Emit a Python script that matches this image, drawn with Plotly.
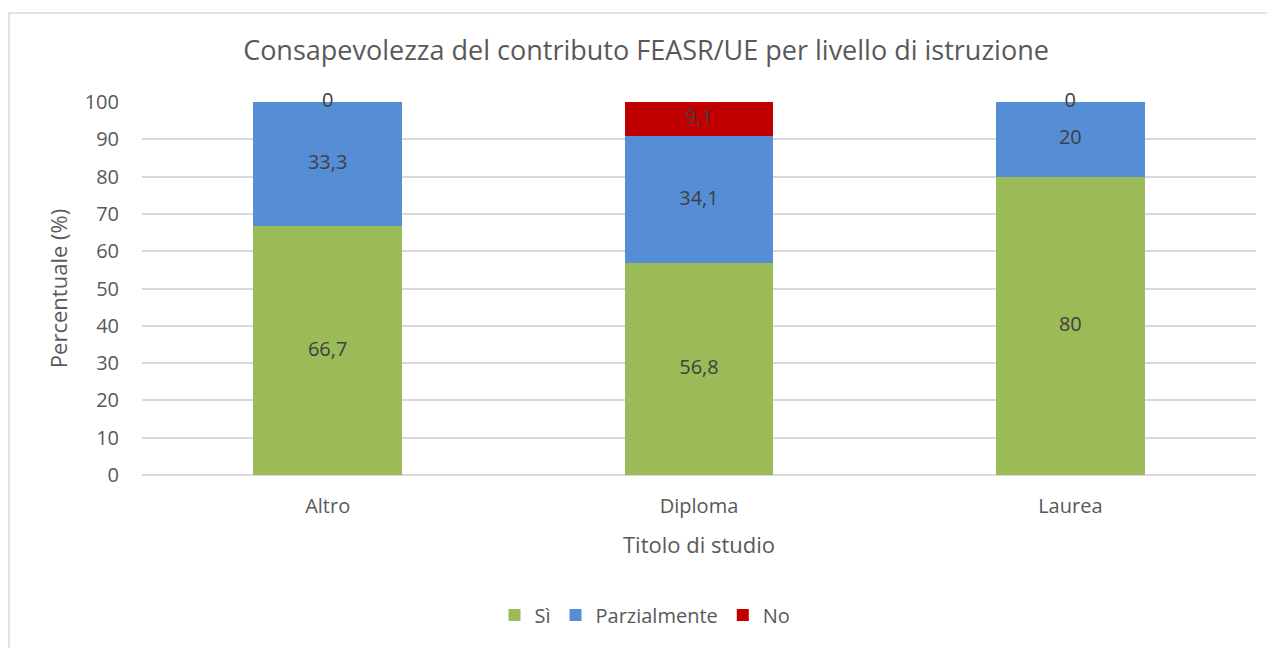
import plotly.graph_objects as go

categories = ["Altro", "Diploma", "Laurea"]
si = [66.7, 56.8, 80]
parz = [33.3, 34.1, 20]
no = [0, 9.1, 0]
series_names = ["Sì", "Parzialmente", "No"]
colors = ["#9BBB59", "#558ED5", "#C00000"]
y_ticks = list(range(0, 101, 10))

FONT = "Open Sans, Lato, sans-serif"
TXT = "#595959"

def fmt(v):
    s = ("%g" % v)
    return s.replace(".", ",")

fig = go.Figure()
series = [si, parz, no]
for name, vals, col in zip(series_names, series, colors):
    fig.add_trace(go.Bar(
        x=categories, y=vals, name=name, marker_color=col,
        marker_line_width=0, width=0.4, hoverinfo="skip"))

# data labels, centred in each segment
base = [0, 0, 0]
lx, ly, lt = [], [], []
for vals in series:
    for i, v in enumerate(vals):
        lx.append(categories[i])
        ly.append(base[i] + v / 2)
        lt.append(fmt(v))
        base[i] += v
fig.add_trace(go.Scatter(
    x=lx, y=ly, text=lt, mode="text", showlegend=False, cliponaxis=False,
    textfont=dict(family=FONT, size=20, color="#404040"), hoverinfo="skip"))

W, H = 1267, 640
L, R_EDGE, T, B_EDGE = 134, 1248, 94, 467
PW, PH = R_EDGE - L, B_EDGE - T

fig.update_layout(
    barmode="stack",
    width=W, height=H,
    margin=dict(l=L, r=W - R_EDGE, t=T, b=H - B_EDGE),
    paper_bgcolor="white", plot_bgcolor="white",
    font=dict(family=FONT, color=TXT, size=20),
    title=dict(text="Consapevolezza del contributo FEASR/UE per livello di istruzione",
               x=(645 - 7) / W, xanchor="center", y=1 - 43 / H, yanchor="middle",
               xref="container", yref="container",
               font=dict(family=FONT, size=27, color=TXT)),
    legend=dict(orientation="h", x=0.5 - 54 / PW, xanchor="center", y=(B_EDGE - 607) / PH,
                yanchor="middle",
                font=dict(family=FONT, size=20, color=TXT), traceorder="normal",
                itemwidth=30),
    xaxis=dict(title=dict(text="Titolo di studio", font=dict(size=22, color=TXT), standoff=19),
               showgrid=False, showline=False, zeroline=False,
               tickfont=dict(size=20, color=TXT), ticks="", ticklabelstandoff=17),
    yaxis=dict(title=dict(text="Percentuale (%)", font=dict(size=22, color=TXT), standoff=10),
               range=[0, 100], tickvals=y_ticks, showgrid=True, gridcolor="#D9D9D9",
               gridwidth=1.5, zeroline=True, zerolinecolor="#D9D9D9", zerolinewidth=1.5,
               showline=False, ticks="", tickfont=dict(size=20, color=TXT),
               ticklabelstandoff=22),
    shapes=[dict(type="rect", xref="paper", yref="paper",
                 x0=(1 - L) / PW, x1=(W + 20 - L) / PW,
                 y0=(B_EDGE - (H + 20)) / PH, y1=(B_EDGE - 5) / PH,
                 line=dict(color="#D9D9D9", width=1.5), fillcolor="rgba(0,0,0,0)",
                 layer="below")],
)

fig.write_html("out.html")
